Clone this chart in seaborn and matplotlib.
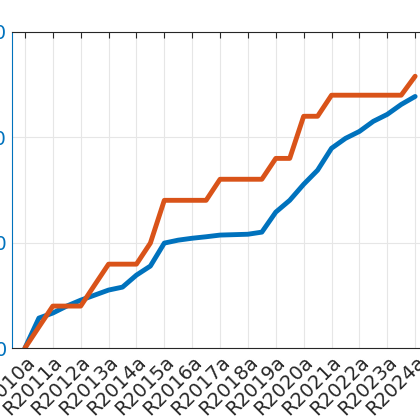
import matplotlib
matplotlib.use("Agg")
import matplotlib.pyplot as plt
import seaborn as sns
import pandas as pd

releases = [f"R{y}{s}" for y in range(2010, 2025) for s in "ab"][:29]
tick_labels = [f"R{y}a" for y in range(2010, 2025)]
blue = [0, 14.2, 16.6, 19.9, 22.7, 25.1, 27.5, 28.9, 34.6, 38.9, 49.8, 51.2, 52.1, 52.8,
        53.6, 53.8, 54.0, 55.0, 64.5, 70.1, 77.7, 84.4, 94.8, 99.5, 102.8, 107.6, 110.9, 115.6, 119.4]
orange = [0, 10, 19.9, 19.9, 19.9, 29.9, 39.8, 39.8, 39.8, 49.8, 70.1, 70.1, 70.1, 70.1,
          80.1, 80.1, 80.1, 80.1, 90, 90, 110, 110, 120, 120, 120, 120, 120, 120, 129]

sns.set_style("white")
df = pd.DataFrame({"i": list(range(len(releases))) * 2,
                   "v": blue + orange,
                   "s": ["A"] * len(blue) + ["B"] * len(orange)})

fig = plt.figure(figsize=(4.2, 4.2), dpi=100)
ax = fig.add_axes([12/420, 72/420, 431/420, 316/420])
sns.lineplot(data=df, x="i", y="v", hue="s", palette=["#0072BD", "#D95319"],
             linewidth=3.5, legend=False, ax=ax)
ax.set_xlim(-0.93, 30)
ax.set_ylim(0, 150)
ax.set_xticks(range(0, 29, 2))
ax.set_xticklabels(tick_labels, rotation=45, ha="right", rotation_mode="anchor", fontsize=14)
ax.set_yticks([0, 50, 100, 150])
ax.set_yticklabels(["0", "50", "100", "150"], fontsize=14, color="#0072BD")
ax.tick_params(axis="both", direction="in", length=4, top=True)
ax.tick_params(axis="y", colors="#0072BD", labelcolor="#0072BD")
ax.grid(True, color="#e6e6e6", linewidth=0.8)
for s in ax.spines.values():
    s.set_color("#262626"); s.set_linewidth(0.8)
ax.spines["left"].set_color("#0072BD")
ax.set_xlabel(""); ax.set_ylabel("")
fig.savefig("out.png", dpi=100)
